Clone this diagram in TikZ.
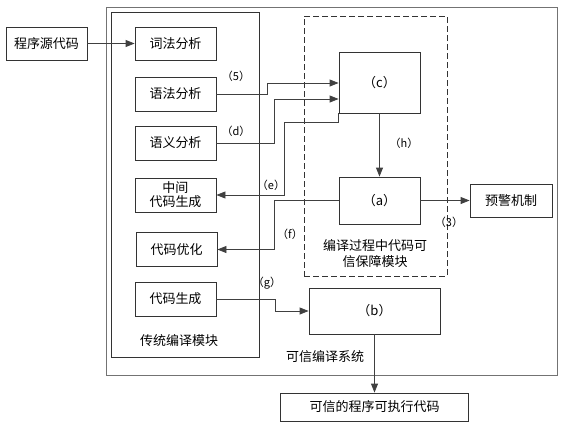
\documentclass[tikz,border=0pt]{standalone}
\usepackage{fontspec}
\newfontfamily\cjk{Noto Sans CJK SC}
\usetikzlibrary{arrows.meta}
\tikzset{
  box/.style={draw=black!80, line width=0.8pt, rectangle, inner sep=0pt, font=\cjk\fontsize{13}{15}\selectfont},
  lbl/.style={inner sep=0pt, font=\cjk\fontsize{11}{12}\selectfont},
  txt/.style={inner sep=0pt, font=\cjk\fontsize{13}{16}\selectfont, align=center},
  arr/.style={draw=black!75, line width=0.8pt, -{Triangle[length=9pt,width=7pt]}},
  ln/.style={draw=black!75, line width=0.8pt}
}
\begin{document}
\begin{tikzpicture}[x=1pt,y=-1pt]
\useasboundingbox (0,0) rectangle (574,426);
% containers
\node[box, draw=black!55, line width=1pt, minimum width=451pt, minimum height=368pt] (outer) at (331.5,191) {};
\node[box, minimum width=148pt, minimum height=345pt] (inner) at (185,184.5) {};
\node[box, dashed, dash pattern=on 6pt off 3pt, minimum width=143pt, minimum height=260pt] (guard) at (375.5,146) {};
% boxes
\node[box, minimum width=81pt, minimum height=33pt] (src) at (46.5,43.5) {程序源代码};
\node[box, minimum width=81pt, minimum height=33pt] (lex) at (175.5,43.5) {词法分析};
\node[box, minimum width=81pt, minimum height=34pt] (syn) at (175.5,94) {语法分析};
\node[box, minimum width=81pt, minimum height=34pt] (sem) at (175.5,143) {语义分析};
\node[box, minimum width=81pt, minimum height=34pt, align=center, font=\cjk\fontsize{13}{14}\selectfont] (mid) at (175.5,195) {中间\\代码生成};
\node[box, minimum width=81pt, minimum height=34pt] (opt) at (176.5,249.5) {代码优化};
\node[box, minimum width=81pt, minimum height=34pt] (gen) at (175.5,299) {代码生成};
\node[box, minimum width=81pt, minimum height=61pt] (c) at (379.5,82.5) {（c）};
\node[box, minimum width=81pt, minimum height=47pt] (a) at (379.5,200.5) {（a）};
\node[box, minimum width=82pt, minimum height=33pt] (warn) at (511,200.5) {预警机制};
\node[box, minimum width=131pt, minimum height=46pt] (b) at (374.5,311) {（b）};
\node[box, minimum width=188pt, minimum height=28pt] (out) at (374.5,407) {可信的程序可执行代码};
% texts
\node[txt] (t1) at (179,341) {传统编译模块};
\node[txt] (t2) at (325,357) {可信编译系统};
\node[txt] (t3) at (375,253.5) {编译过程中代码可\\信保障模块};
% connectors
\draw[arr] (src) -- (lex);
\draw[arr] (syn.east) -- (267,94) |- (c.west |- 0,83);
\draw[arr] (sem.east) -- (274,143) |- (c.west |- 0,99);
\draw[arr] (c.south west) |- (284,122) |- (mid.east);
\draw[arr] (a.west) -| ([xshift=56.5pt]opt.east) -- (opt.east);
\draw[arr] (c.south) -- (a.north);
\draw[arr] (a.east) -- (warn.west);
\draw[arr] (gen.east) -- ++(59,0) |- (b.west);
\draw[arr] (b.south) -- (out.north);
% labels
\node[lbl] (l5) at (236,76) {（5）};
\node[lbl] (ld) at (236,131) {（d）};
\node[lbl] (le) at (271,185) {（e）};
\node[lbl] (lf) at (290,234) {（f）};
\node[lbl] (lg) at (267,283) {（g）};
\node[lbl] (lh) at (404,143) {（h）};
\node[lbl] (l3) at (449,222) {（3）};
\end{tikzpicture}
\end{document}
